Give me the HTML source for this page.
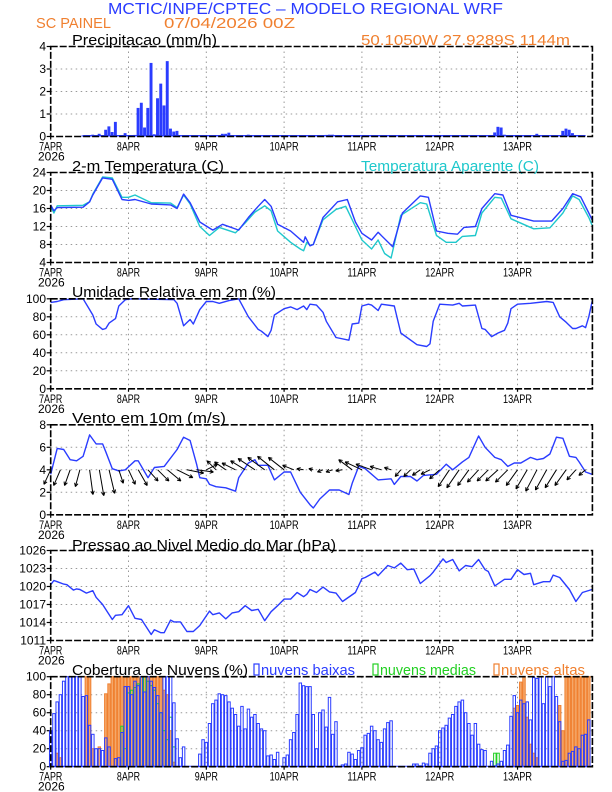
<!DOCTYPE html>
<html><head><meta charset="utf-8"><style>
html,body{margin:0;padding:0;background:#fff}
svg{display:block}
text{font-family:"Liberation Sans",sans-serif}
</style></head><body>
<svg id="chart" width="612" height="792" viewBox="0 0 612 792" xmlns="http://www.w3.org/2000/svg">
<text x="108" y="14" font-size="16" fill="#2a3cff" textLength="395" lengthAdjust="spacingAndGlyphs">MCTIC/INPE/CPTEC – MODELO REGIONAL WRF</text>
<text x="36" y="28" font-size="15" fill="#f08030" textLength="75" lengthAdjust="spacingAndGlyphs">SC PAINEL</text>
<text x="164" y="28" font-size="15" fill="#f08030" textLength="131" lengthAdjust="spacingAndGlyphs">07/04/2026 00Z</text>
<text x="361" y="45" font-size="15" fill="#f08030" textLength="209" lengthAdjust="spacingAndGlyphs">50.1050W 27.9289S 1144m</text>
<g id="plots"></g>
</svg>
<script>
// ---------- DATA ----------
const dayLabels = ["7APR","8APR","9APR","10APR","11APR","12APR","13APR"];
const precipHours = [10,13,15,17,18,19,20,21,23,24,26,27,28,29,30,31,32,33,34,35,36,37,38,39,40,53,54,55,56,61,64,67,85,86,87,88,89,137,138,139,140,150,157,158,159,160,161,163];
const precipValues = [0.05,0.08,0.12,0.3,0.45,0.2,0.65,0.03,0.15,0.05,0.07,1.27,1.5,0.4,1.27,3.27,0.1,1.7,2.35,1.38,3.35,0.35,0.22,0.25,0.03,0.12,0.12,0.17,0.05,0.08,0.03,0.03,0.07,0.08,0.08,0.05,0.03,0.18,0.43,0.4,0.08,0.12,0.05,0.25,0.35,0.3,0.15,0.05];
const tempHours = [0,1,2,10,12,13,16,19,22,24,26,31,37,39,41,43,46,50,53,58,61,64,66,68,70,74,78,78.5,80,81,84,88.5,91.5,94,96,99,101,105.5,108.5,114,116.5,119,122.5,125.5,127.5,131,133,137,139.5,142,149,154.5,158,161,163.5,166,167];
const tempValues = [16.8,15.5,16.2,16.3,17.5,19,22.8,22.5,18,17.8,18,17,16.8,16,19.2,17.3,13,11.2,12.5,11.2,14,16.5,18,16.5,12.5,11,8.5,9.7,7.7,8,14,17.5,18,13,10.5,9,10.7,7.5,15,18.8,18.5,11,10.5,10.3,11.8,12,16,19.3,19,14.5,13.2,13.2,16,19.3,18.6,15,13.5];
const appHours = [0,1,2,10,12,13,16,19,22,24,26,31,37,39,41,43,46,49,52,57,60,63,66,68,70,74,77,78,79,80,81,84,88,91,94,96,99,101,103,105,108,114,116,119,122,125,127,131,133,137,139,142,149,154,158,161,163,166,167];
const appValues = [16.5,15,16.6,16.7,17.5,19.2,23,22.8,18.5,18.5,19,17.3,17.2,16.2,19,17,12,10,11.8,10.6,12.8,15.2,16.6,15.5,11,8.5,7,6.6,8.5,7.8,8,13.5,15.8,16.5,12,9,7,9,6,5,14.5,17.3,17,10,8.5,8.5,9.8,10,15,18.5,18.3,13.7,11.5,11.7,15,18.8,18,14,12.3];
const rhHours = [0,2,4,10,12,13,14,16,17,18,20,21,23,25,38,39,41,43,44,46,48,50,52,55,58,61,64,65,67,68,69,72,74,76,78,79,80,82,84,85,88,92,93,95,96,98,99,101,102,106,108,113,116,117,118,120,124,126,127,131,133,134,136,138,140,141,142,144,148,153,155,157,159,161,162,164,165,166,167];
const rhValues = [96,97,99,100,88,82,72,66,67,73,78,92,99,100,99,95,70,77,72,88,97,97,95,98,100,80,66,64,58,65,82,89,91,88,92,88,94,93,85,75,57,54,72,73,92,94,93,87,94,92,62,49,47,50,75,94,93,95,92,93,67,66,58,62,65,73,89,94,95,97,96,80,74,67,67,70,68,80,97];
const windHours = [0,2,4,6,8,10,12,14,16,17,19,21,23,26,27,29,30,32,35,39,41,43,45,46,48,49,51,54,57,58,61,63,64,67,69,72,74,77,80,81,83,86,89,92,93,95,97,101,105,106,108,111,113,115,119,122,124,127,129,132,134,137,139,141,143,145,148,150,152,154,156,158,160,162,163,165,167];
const windSpeed = [3.6,5.9,5.8,4.9,4.8,5.2,7.1,6.3,6.3,5.6,4.1,3.9,4.0,4.8,4.8,3.8,3.3,4.2,4.3,5.8,6.9,6.6,4.5,3.3,3.2,2.7,2.5,2.4,2.1,3.3,4.6,4.9,4.4,4.4,3.1,3.8,3.8,2.0,0.9,0.6,1.4,2.2,2.2,1.8,2.8,4.3,4.1,3.1,3.2,2.7,3.4,3.4,3.0,3.5,3.6,4.5,4.0,4.7,5.1,7.0,6.0,5.1,4.9,4.3,4.6,4.6,5.1,4.9,5.0,5.4,6.9,6.8,5.2,5.1,4.7,3.8,3.6];
const vecHours = [0,3,6,9,12,15,18,21,24,27,30,33,36,39,42,45,48,51,54,57,60,63,66,69,72,75,78,81,84,87,90,93,96,99,102,105,108,111,114,117,120,123,126,129,132,135,138,141,144,147,150,153,156,159,162,165];
const vecU = [-0.6,-0.6,-0.5,-0.4,0.3,0.4,0.5,0.4,0.6,0.8,0.9,1.0,1.2,1.4,1.5,1.5,1.0,-0.8,-1.0,-1.2,-1.3,-1.5,-1.5,-1.5,-1.4,-1.0,-0.6,-0.4,-0.5,-0.6,-0.6,-1.2,-1.5,-1.4,-1.0,-0.6,-0.5,-0.6,-0.7,-0.8,-0.9,-1.0,-1.1,-1.0,-1.0,-1.0,-1.1,-1.1,-1.0,-1.0,-1.0,-1.0,-1.0,-1.0,-0.8,-0.6];
const vecV = [-1.3,-1.4,-1.4,-1.5,-2.2,-2.3,-2.1,-1.2,-1.3,-1.4,-1.0,-1.0,-1.0,-0.7,-0.3,-0.2,0.5,0.8,0.7,0.6,0.8,1.0,1.1,1.2,1.1,0.4,0.1,0.1,-0.2,-0.2,-0.1,0.9,0.7,0.5,0.3,0.2,-0.6,-0.6,-0.5,-0.4,-0.8,-1.5,-1.6,-1.4,-1.1,-1.0,-1.0,-1.1,-1.4,-1.7,-1.9,-1.8,-1.6,-1.4,-0.9,-0.5];
const presHours = [0,1,2,4,5,7,8,9,11,13,14,16,19,20,22,24,26,28,31,32,34,35,37,38,40,42,44,46,49,50,52,54,56,58,60,62,64,66,68,70,72,74,76,78,79,80,82,84,86,88,90,94,96,97,100,101,104,106,108,110,112,114,117,118,121,122,124,126,128,130,132,134,135,137,140,142,144,146,148,149,152,154,155,157,160,162,164,167];
const presValues = [1020.3,1021,1020.8,1020.4,1020.3,1019.4,1019.6,1019.5,1018.9,1019.3,1018.2,1017,1014.5,1015.2,1015.3,1016.8,1014.7,1014.5,1012,1012.8,1012.3,1012.3,1014.4,1014.1,1014.1,1012.5,1012.5,1013.5,1015.9,1015.3,1015.6,1014.6,1015.6,1015.8,1016.8,1016,1016.2,1014.3,1015.8,1016.8,1017.9,1017.9,1019,1018.3,1018.7,1019.5,1019,1019.9,1019.1,1018.9,1017.5,1019,1021.3,1021.5,1022.4,1021.8,1023.5,1023.1,1023.9,1022.8,1022.9,1020.5,1021.8,1022.4,1024.6,1024,1024.5,1022.6,1023.5,1023.3,1024.5,1022.8,1022.5,1020.1,1021.2,1021.2,1022.8,1022,1022.2,1020.3,1020.8,1020.8,1021.9,1021.5,1019.5,1017.5,1019,1019.5];
const lowCloud = [40,59,72,80,95,100,100,100,100,100,78,79,46,36,20,20,18,32,22,0,9,10,38,89,89,80,95,90,100,83,100,95,88,79,60,100,100,100,71,31,10,22,0,0,0,0,14,30,27,48,70,74,81,80,79,72,65,58,45,67,42,64,55,58,48,42,40,12,13,8,16,0,10,13,30,38,58,93,90,89,89,58,20,60,63,44,77,36,50,0,2,3,16,14,8,18,21,35,37,45,40,30,27,42,49,51,0,0,0,0,0,0,3,3,1,4,3,15,20,23,40,43,46,54,58,67,72,74,60,48,35,48,25,19,18,0,6,1,3,6,18,24,56,79,60,74,70,72,52,99,98,100,70,100,89,100,78,50,6,7,15,17,22,20,35,36,52];
const highHours = [2,3,11,12,13,15,17,18,19,20,21,22,23,24,25,26,27,28,29,30,31,32,33,34,35,36,37,38,143,144,145,146,147,148,149,150,157,158,159,160,161,162,163,164,165,166];
const highValues = [15,10,100,100,20,22,81,92,100,100,100,100,100,100,100,100,100,100,100,100,100,100,100,100,85,80,40,5,65,68,94,100,55,25,15,10,68,40,100,100,100,100,100,100,100,100];
const midHours = [22,23,24,25,26,27,28,29,30,31,32,33,34,35,36,37,38,137,138];
const midValues = [45,20,82,85,88,92,100,100,95,90,85,70,60,40,30,55,22,15,15];

// ---------- LAYOUT ----------
const NS="http://www.w3.org/2000/svg";
const X0=50.7, X1=592.4, HMAX=167.1;
const root=document.getElementById('plots');
function xs(h){return X0+(h/HMAX)*(X1-X0);}
function el(tag,attrs,parent){const e=document.createElementNS(NS,tag);for(const k in attrs)e.setAttribute(k,attrs[k]);(parent||root).appendChild(e);return e;}
const BLUE="#2a3cff", CYAN="#1fc8cc", ORANGE="#f08030", GREEN="#22d022";

function panel(name,top,min,max,ticks,title,titleLen,titleY){
  const bot=top+90;
  const g=el('g',{});
  
  
  const ys=v=>bot-(v-min)/(max-min)*90;
  // grid
  ticks.forEach(t=>{ if(t!==min&&t!==max){const l=el('line',{x1:X0,x2:X1,y1:ys(t),y2:ys(t),stroke:'#999','stroke-width':1,'stroke-dasharray':'1.5,3.5'},g);}});
  dayLabels.forEach((d,i)=>{ if(i>0){const l=el('line',{x1:xs(i*24),x2:xs(i*24),y1:top,y2:bot,stroke:'#999','stroke-width':1,'stroke-dasharray':'1.5,3.5'},g);}});
  // y ticks
  ticks.forEach(t=>{
    const tx=el('text',{x:46,y:ys(t)+4,'font-size':12,'text-anchor':'end',fill:'#000'},g);tx.textContent=t;
    
    el('line',{x1:X0-4,x2:X0,y1:ys(t),y2:ys(t),stroke:'#000','stroke-width':1.2},g);
  });
  // x labels
  dayLabels.forEach((d,i)=>{
    const tx=el('text',{x:xs(i*24),y:bot+14,'font-size':12,'text-anchor':'middle',fill:'#000',textLength:d.length*5.8,lengthAdjust:'spacingAndGlyphs'},g);tx.textContent=d;
    
    el('line',{x1:xs(i*24),x2:xs(i*24),y1:bot,y2:bot+3,stroke:'#000','stroke-width':1.2},g);
  });
  const yr=el('text',{x:38,y:bot+24,'font-size':12,fill:'#000'},g);yr.textContent='2026';
  
  const tt=el('text',{x:72,y:titleY,'font-size':15,fill:'#000',textLength:titleLen,lengthAdjust:'spacingAndGlyphs'},g);tt.textContent=title;
  
  return {g,ys,top,bot};
}
function frame(p){
  const r=el('rect',{x:X0,y:p.top,width:X1-X0,height:90,fill:'none',stroke:'#000','stroke-width':1.6,'stroke-dasharray':'7,2'},p.g);
  
}
function line(p,hours,vals,color,name,w){
  const d=hours.map((h,i)=>(i?'L':'M')+xs(h).toFixed(1)+','+p.ys(vals[i]).toFixed(1)).join('');
  const pa=el('path',{d:d,fill:'none',stroke:color,'stroke-width':w||1.4,'stroke-linejoin':'round'},p.g);
  
}
const bw=(X1-X0)/HMAX;

// Precip
const p1=panel('precipitation',46.5,0,4,[0,1,2,3,4],'Precipitacao (mm/h)',145,45);
const base=el('rect',{x:xs(10),y:p1.ys(0)-1.5,width:xs(165)-xs(10),height:1.5,fill:BLUE},p1.g);

precipHours.forEach((h,i)=>{
  const b=el('rect',{x:xs(h)-bw/2,y:p1.ys(precipValues[i]),width:bw*0.9,height:p1.ys(0)-p1.ys(precipValues[i]),fill:BLUE},p1.g);
  
});
frame(p1);

// Temperature
const p2=panel('temperature',172.5,4,24,[4,8,12,16,20,24],'2-m Temperatura (C)',152,171);
const at=el('text',{x:361,y:171,'font-size':15,fill:CYAN,textLength:178,lengthAdjust:'spacingAndGlyphs'},p2.g);at.textContent='Temperatura Aparente (C)';

line(p2,appHours,appValues,CYAN,'apparent-temperature-line');
line(p2,tempHours,tempValues,BLUE,'temperature-line');
frame(p2);

// RH
const p3=panel('humidity',298.8,0,100,[0,20,40,60,80,100],'Umidade Relativa em 2m (%)',204,297);
line(p3,rhHours,rhValues,BLUE,'humidity-line');
frame(p3);

// Wind
const p4=panel('wind',424.8,0,8,[0,2,4,6,8],'Vento em 10m (m/s)',154,423);
line(p4,windHours,windSpeed,BLUE,'wind-speed-line');
const k=p4.ys(0)-p4.ys(1);
vecHours.forEach((h,i)=>{
  const x=xs(h), y=p4.ys(4);
  const ex=x+vecU[i]*k, ey=y-vecV[i]*k;
  const ang=Math.atan2(ey-y,ex-x), L=4;
  const d=`M${x},${y}L${ex},${ey}M${ex},${ey}L${ex-L*Math.cos(ang-0.45)},${ey-L*Math.sin(ang-0.45)}M${ex},${ey}L${ex-L*Math.cos(ang+0.45)},${ey-L*Math.sin(ang+0.45)}`;
  const a=el('path',{d:d,stroke:'#000','stroke-width':1,fill:'none'},p4.g);
  
});
frame(p4);

// Pressure
const p5=panel('pressure',550.5,1011,1026,[1011,1014,1017,1020,1023,1026],'Pressao ao Nivel Medio do Mar (hPa)',264,550);
line(p5,presHours,presValues,BLUE,'pressure-line');
frame(p5);

// Cloud
const p6=panel('cloud',676.7,0,100,[0,20,40,60,80,100],'Cobertura de Nuvens (%)',176,675);
highHours.forEach((h,i)=>{
  const b=el('rect',{x:xs(h)-bw/2+0.4,y:p6.ys(highValues[i]),width:bw-0.8,height:p6.ys(0)-p6.ys(highValues[i]),fill:'#f5a86a',stroke:ORANGE,'stroke-width':1},p6.g);
  
});
midHours.forEach((h,i)=>{
  const b=el('rect',{x:xs(h)-bw/2+0.4,y:p6.ys(midValues[i]),width:bw-0.8,height:p6.ys(0)-p6.ys(midValues[i]),fill:'none',stroke:GREEN,'stroke-width':1},p6.g);
  
});
lowCloud.forEach((v,h)=>{
  if(v<=0)return;
  const b=el('rect',{x:xs(h)-bw/2+0.4,y:p6.ys(v),width:bw-0.8,height:p6.ys(0)-p6.ys(v),fill:'none',stroke:BLUE,'stroke-width':1},p6.g);
  
});
const zl=el('line',{x1:X0,x2:X1,y1:p6.ys(0)-0.5,y2:p6.ys(0)-0.5,stroke:BLUE,'stroke-width':1},p6.g);

frame(p6);
const leg=[['nuvens baixas',BLUE,254,102],['nuvens medias',GREEN,373,104],['nuvens altas',ORANGE,494,92]];
leg.forEach(([t,c,x,w])=>{
  const s=el('rect',{x:x,y:664,width:5,height:11,fill:'none',stroke:c,'stroke-width':1.2},p6.g);
  
  const tx=el('text',{x:x+7,y:675,'font-size':15,fill:c,textLength:w-8,lengthAdjust:'spacingAndGlyphs'},p6.g);tx.textContent=t;
  
});
</script>
</body></html>
